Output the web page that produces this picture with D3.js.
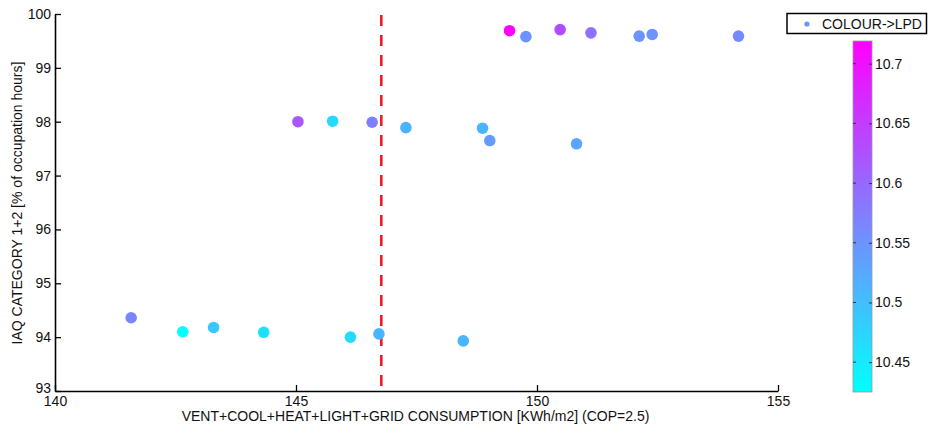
<!DOCTYPE html>
<html>
<head>
<meta charset="utf-8">
<script src="https://cdn.jsdelivr.net/npm/d3@7"></script>
<style>
  html, body { margin: 0; padding: 0; background: #fff; }
  svg { display: block; }
  text { font-family: "Liberation Sans", Arial, sans-serif; fill: #111; }
</style>
</head>
<body>
<svg id="chart" width="928" height="432"></svg>
<script>
// ---- data ----
const consumption = [149.43, 149.77, 150.48, 151.12, 152.12, 152.39, 154.18,
                     145.04, 145.76, 146.58, 147.28, 148.87, 149.02, 150.82,
                     141.58, 142.65, 143.29, 144.33, 146.13, 146.72, 148.47];
const iaq = [99.69, 99.58, 99.71, 99.65, 99.59, 99.62, 99.59,
             98.00, 98.01, 97.99, 97.89, 97.88, 97.65, 97.59,
             94.36, 94.10, 94.18, 94.09, 94.00, 94.06, 93.93];
const lpd = [10.719, 10.55, 10.63, 10.59, 10.55, 10.55, 10.56,
             10.62, 10.47, 10.57, 10.51, 10.51, 10.54, 10.53,
             10.565, 10.425, 10.49, 10.46, 10.465, 10.51, 10.51];
const xTicks = [140, 145, 150, 155];
const yTicks = [93, 94, 95, 96, 97, 98, 99, 100];
const cTicks = [10.45, 10.5, 10.55, 10.6, 10.65, 10.7];
const referenceX = [146.77];
const legendLabel = ["COLOUR->LPD"];
const xLabel = "VENT+COOL+HEAT+LIGHT+GRID CONSUMPTION [KWh/m2] (COP=2.5)";
const yLabel = "IAQ CATEGORY 1+2 [% of occupation hours]";

// ---- layout ----
const svg = d3.select("#chart");
const plot = { left: 55, right: 778, top: 14, bottom: 391 };
const cbar = { left: 853, right: 872, top: 41, bottom: 392 };

const x = d3.scaleLinear().domain([140, 155]).range([plot.left, plot.right]);
const y = d3.scaleLinear().domain([93, 100]).range([plot.bottom, plot.top]);
const cDomain = d3.extent(lpd);
const cool = t => d3.rgb(255 * t, 255 * (1 - t), 255).formatHex();
const color = d3.scaleSequential(cool).domain(cDomain);
const cy = d3.scaleLinear().domain(cDomain).range([cbar.bottom, cbar.top]);

const fs = 14;
const ff = "Liberation Sans, Arial, sans-serif";

// x axis
const gx = svg.append("g").attr("transform", `translate(0,${plot.bottom})`)
  .call(d3.axisBottom(x).tickValues(xTicks).tickSizeInner(-6).tickSizeOuter(0).tickFormat(d3.format("d")));
gx.select(".domain").attr("stroke", "#000").attr("stroke-width", 1.6);
gx.selectAll(".tick line").attr("stroke", "#000").attr("stroke-width", 1.3);
gx.selectAll(".tick text").attr("y", 5).attr("dy", "0.71em")
  .style("font-size", fs + "px").style("font-family", ff).attr("fill", "#111");

// y axis
const gy = svg.append("g").attr("transform", `translate(${plot.left},0)`)
  .call(d3.axisLeft(y).tickValues(yTicks).tickSizeInner(-6).tickSizeOuter(0).tickFormat(d3.format("d")));
gy.select(".domain").attr("stroke", "#000").attr("stroke-width", 1.6);
gy.selectAll(".tick line").attr("stroke", "#000").attr("stroke-width", 1.3);
gy.selectAll(".tick text").attr("x", -4).attr("dy", d => d === 93 ? "0.1em" : "0.32em")
  .style("font-size", fs + "px").style("font-family", ff).attr("fill", "#111");

// axis labels
svg.append("text").attr("x", (plot.left + plot.right) / 2 - 1).attr("y", 421)
  .attr("text-anchor", "middle").style("font-size", fs + "px").text(xLabel);
svg.append("text").attr("transform", `translate(22,203) rotate(-90)`)
  .attr("text-anchor", "middle").style("font-size", fs + "px").text(yLabel);

// reference line
svg.selectAll("line.ref").data(referenceX).join("line").attr("class", "ref")
  .attr("x1", d => x(d)).attr("x2", d => x(d))
  .attr("y1", plot.top + 1).attr("y2", plot.bottom)
  .attr("stroke", "#ee1c24").attr("stroke-width", 2.6).attr("stroke-dasharray", "11,9");

// points
svg.append("g").selectAll("circle").data(consumption).join("circle")
  .attr("cx", (d, i) => x(d)).attr("cy", (d, i) => y(iaq[i]))
  .attr("r", 5.8).attr("fill", (d, i) => color(lpd[i]));

// colorbar
const defs = svg.append("defs");
const grad = defs.append("linearGradient").attr("id", "cgrad")
  .attr("x1", 0).attr("y1", 1).attr("x2", 0).attr("y2", 0);
d3.range(0, 1.0001, 0.1).forEach(t => grad.append("stop").attr("offset", t).attr("stop-color", cool(t)));
svg.append("rect").attr("x", cbar.left).attr("y", cbar.top)
  .attr("width", cbar.right - cbar.left).attr("height", cbar.bottom - cbar.top)
  .attr("fill", "url(#cgrad)").attr("stroke", "#999").attr("stroke-width", 0.8);
const gc = svg.append("g").attr("transform", `translate(${cbar.right},0)`)
  .call(d3.axisRight(cy).tickValues(cTicks).tickSizeInner(-3).tickSizeOuter(0).tickFormat(d => String(d)));
gc.select(".domain").remove();
gc.selectAll(".tick line").attr("stroke", "#333");
gc.selectAll(".tick text").attr("x", 3)
  .style("font-size", fs + "px").style("font-family", ff).attr("fill", "#111");
svg.append("g").selectAll("line").data(cTicks).join("line")
  .attr("x1", cbar.left).attr("x2", cbar.left + 3).attr("y1", d => cy(d)).attr("y2", d => cy(d)).attr("stroke", "#333");

// legend
const lg = svg.append("g");
lg.append("rect").attr("x", 787).attr("y", 13.5).attr("width", 139.5).attr("height", 20)
  .attr("fill", "#fff").attr("stroke", "#000").attr("stroke-width", 1.5);
lg.append("circle").attr("cx", 807).attr("cy", 24).attr("r", 2.6).attr("fill", color(10.55));
lg.selectAll("text").data(legendLabel).join("text").attr("x", 822).attr("y", 28.8)
  .style("font-size", fs + "px").text(d => d);
</script>
</body>
</html>
